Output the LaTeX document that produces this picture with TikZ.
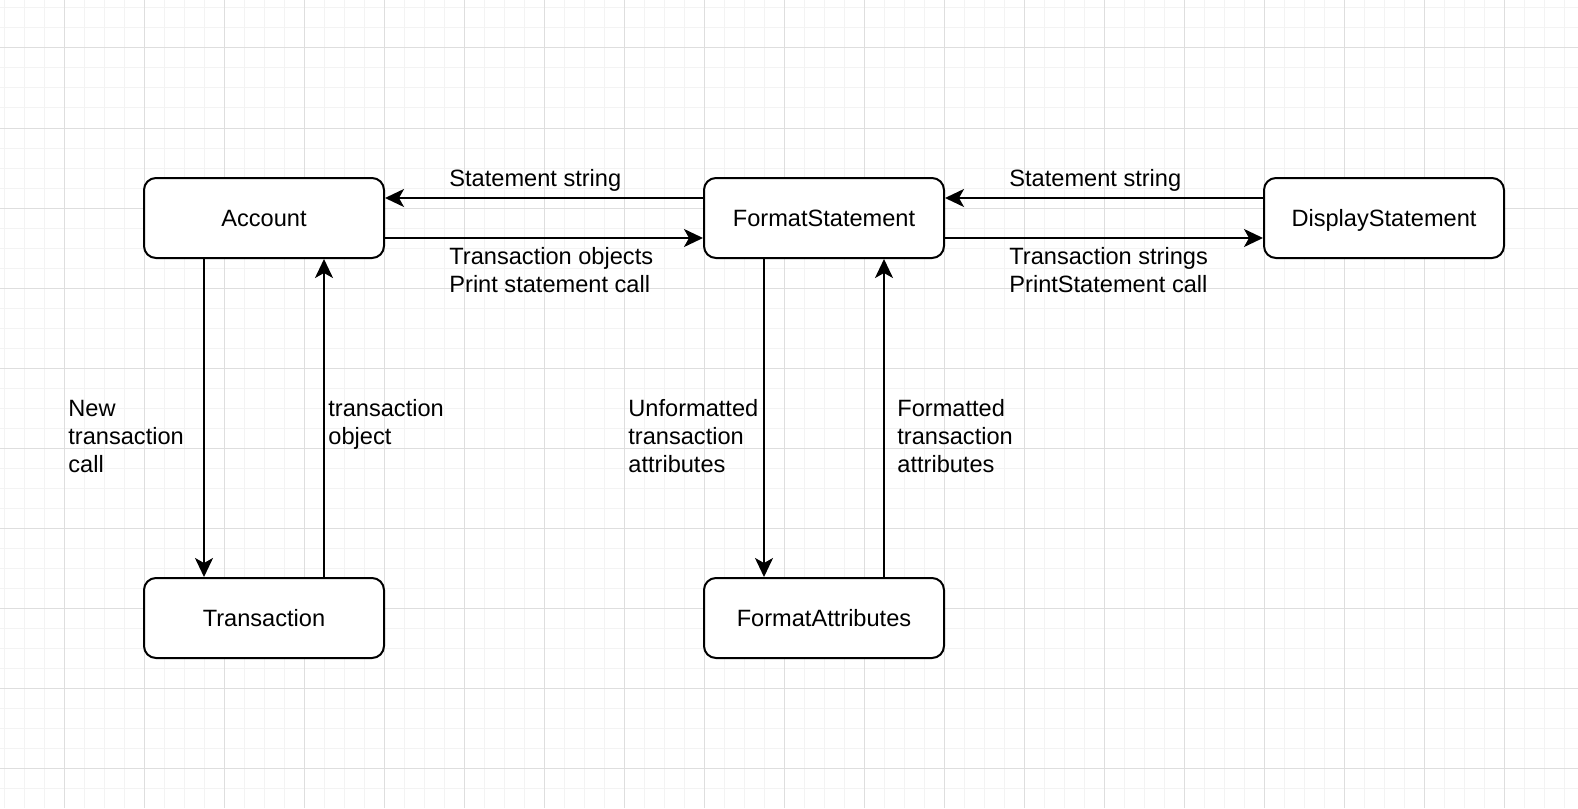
\documentclass[tikz,border=0pt]{standalone}
\usepackage{fontspec}
\setmainfont{Liberation Sans}
\usetikzlibrary{arrows.meta}
\definecolor{minorgray}{RGB}{243,243,243}
\definecolor{majorgray}{RGB}{222,222,222}
\newcommand{\minorgrid}{\foreach \gx in {4,24,...,1564} \draw[minorgray,line width=0.5pt] (\gx,0) -- (\gx,808);
  \foreach \gy in {8,28,...,788} \draw[minorgray,line width=0.5pt] (0,\gy) -- (1578,\gy);}
\newcommand{\majorgrid}{\foreach \gx in {64,144,...,1544} \draw[majorgray,line width=0.5pt] (\gx,0) -- (\gx,808);
  \foreach \gy in {48,128,...,768} \draw[majorgray,line width=0.5pt] (0,\gy) -- (1578,\gy);}

\begin{document}
\begin{tikzpicture}[x=0.5pt,y=-0.5pt,
  classbox/.style={draw,fill=white,line width=1pt,rounded corners=6pt,minimum width=120pt,minimum height=40pt,inner sep=0pt,text height=8.6pt,text depth=0pt,font=\fontsize{11.8}{14}\selectfont},
  flow/.style={line width=1pt,-{Stealth[length=9.5pt,width=9pt,inset=2.5pt]}},
  note/.style={anchor=base west,inner sep=0pt,align=left,font=\fontsize{11.8}{14}\selectfont}]
\useasboundingbox (0,0) rectangle (1578,808);
\fill[white] (0,0) rectangle (1578,808);
\minorgrid\majorgrid
% classes
\node[classbox] (account) at (264,218) {Account};
\node[classbox] (fmtstmt) at (824,218) {FormatStatement};
\node[classbox] (dispstmt) at (1384,218) {DisplayStatement};
\node[classbox] (transaction) at (264,618) {Transaction};
\node[classbox] (fmtattr) at (824,618) {FormatAttributes};
% calls and returns
\draw[flow] ([yshift=10pt]fmtstmt.west) -- ([yshift=10pt]account.east);
\draw[flow] ([yshift=-10pt]account.east) -- ([yshift=-10pt]fmtstmt.west);
\draw[flow] ([yshift=10pt]dispstmt.west) -- ([yshift=10pt]fmtstmt.east);
\draw[flow] ([yshift=-10pt]fmtstmt.east) -- ([yshift=-10pt]dispstmt.west);
\draw[flow] ([xshift=-30pt]account.south) -- ([xshift=-30pt]transaction.north);
\draw[flow] ([xshift=30pt]transaction.north) -- ([xshift=30pt]account.south);
\draw[flow] ([xshift=-30pt]fmtstmt.south) -- ([xshift=-30pt]fmtattr.north);
\draw[flow] ([xshift=30pt]fmtattr.north) -- ([xshift=30pt]fmtstmt.south);
% labels (base = last line)
\node[note] (lblret1) at (449,186) {Statement string};
\node[note] (lblcall1) at (449,292) {Transaction objects\\Print statement call};
\node[note] (lblret2) at (1009,186) {Statement string};
\node[note] (lblcall2) at (1009,292) {Transaction strings\\PrintStatement call};
\node[note] (lblnew) at (68,472) {New\\transaction\\call};
\node[note] (lblobj) at (328,444) {transaction\\object};
\node[note] (lblunf) at (628,472) {Unformatted\\transaction\\attributes};
\node[note] (lblfmt) at (897,472) {Formatted\\transaction\\attributes};
\end{tikzpicture}
\end{document}
